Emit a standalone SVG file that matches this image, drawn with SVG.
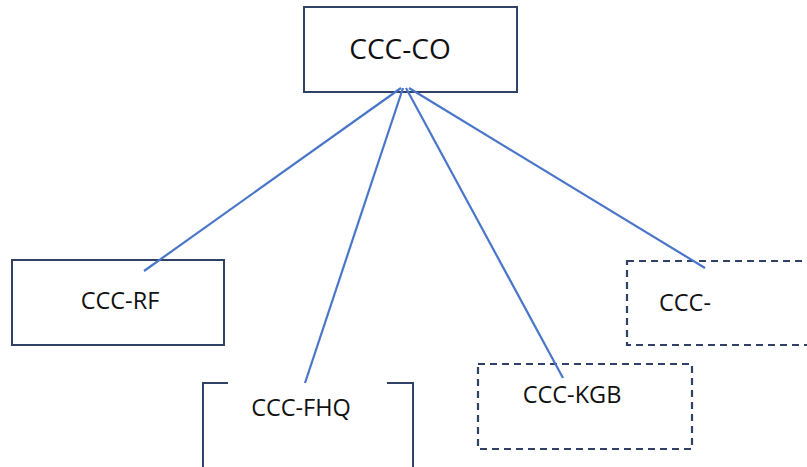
<svg xmlns="http://www.w3.org/2000/svg" width="807" height="467" viewBox="0 0 807 467">
<style>
.box{fill:#fff;stroke:#2f4266;stroke-width:2}
.dash{fill:#fff;stroke:#2f4266;stroke-width:2.2;stroke-dasharray:7 5}
.lbl{font-family:"Open Sans","Liberation Sans",sans-serif;fill:#111;font-size:23.5px}
.con{stroke:#4a76c9;stroke-width:2.2;fill:none}
</style>
<rect width="807" height="467" fill="#fff"/>
<g id="co">
<rect class="box" x="304" y="7" width="213" height="85"/>
<text class="lbl" x="400" y="59" text-anchor="middle" style="font-size:28px">CCC-CO</text>
</g>
<g id="rf">
<rect class="box" x="12" y="260" width="212" height="85"/>
<text class="lbl" x="120" y="309" text-anchor="middle">CCC-RF</text>
</g>
<g id="fhq">
<path class="box" d="M228,383 H203 V470 M387,383 H413 V470" fill="none"/>
<text class="lbl" x="301" y="416" text-anchor="middle">CCC-FHQ</text>
</g>
<g id="kgb">
<rect class="dash" x="478" y="364" width="214" height="85"/>
<text class="lbl" x="572" y="403" text-anchor="middle">CCC-KGB</text>
</g>
<g id="ccc">
<rect class="dash" x="627" y="261" width="200" height="84"/>
<text class="lbl" x="659" y="311">CCC-</text>
</g>
<g id="connectors">
<line class="con" x1="401" y1="88" x2="144" y2="271"/>
<line class="con" x1="403" y1="88" x2="305" y2="383"/>
<line class="con" x1="406" y1="88" x2="563" y2="378"/>
<line class="con" x1="409" y1="88" x2="705" y2="268"/>
</g>
</svg>
